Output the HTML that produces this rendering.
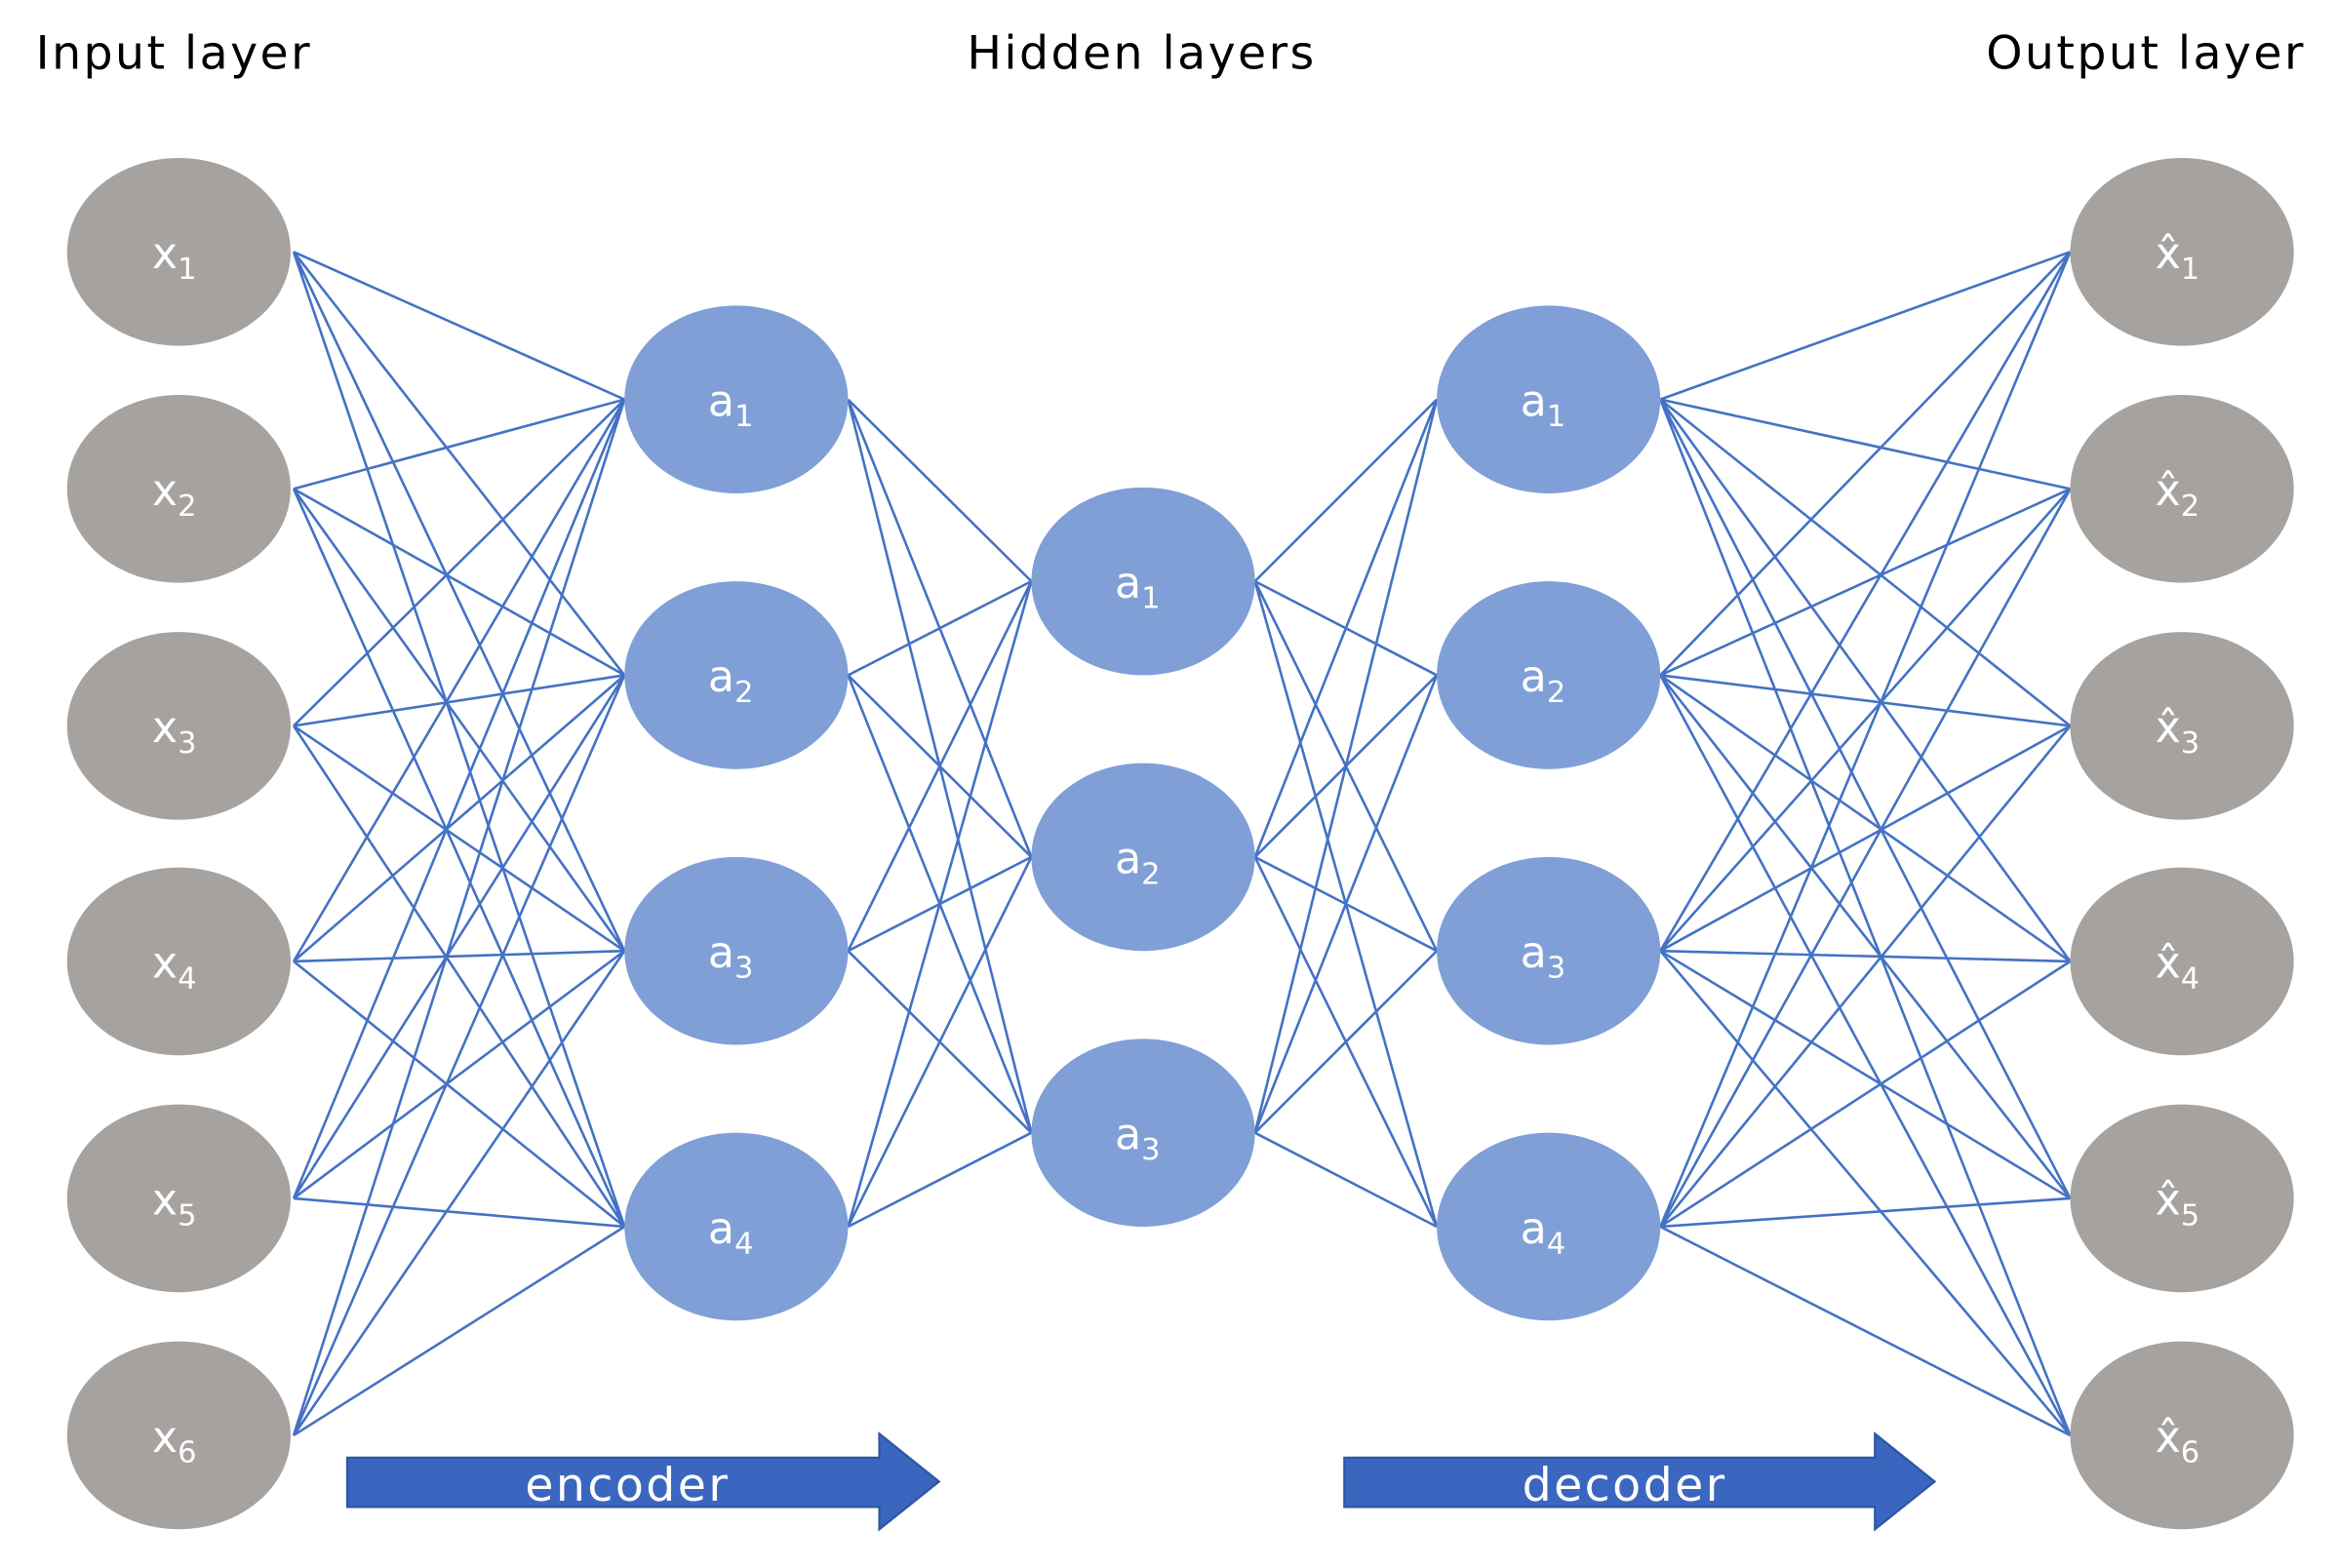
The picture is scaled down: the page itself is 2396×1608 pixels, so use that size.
<!DOCTYPE html>
<html><head><meta charset="utf-8"><style>
html,body{margin:0;padding:0;background:#fff;}
svg{display:block;}
text{font-family:"DejaVu Sans","Liberation Sans",sans-serif;}
</style></head><body>
<svg width="2396" height="1608" viewBox="0 0 1568 1052" preserveAspectRatio="none" xmlns="http://www.w3.org/2000/svg">
<rect width="1568" height="1052" fill="#fff"/>
<g stroke="#4472c4" stroke-width="1.7" fill="none">
<path d="M197 169L419 268M197 169L419 453M197 169L419 638M197 169L419 823
M197 328L419 268M197 328L419 453M197 328L419 638M197 328L419 823
M197 487L419 268M197 487L419 453M197 487L419 638M197 487L419 823
M197 645L419 268M197 645L419 453M197 645L419 638M197 645L419 823
M197 804L419 268M197 804L419 453M197 804L419 638M197 804L419 823
M197 963L419 268M197 963L419 453M197 963L419 638M197 963L419 823"/>
<path d="M569 268L692 390M569 268L692 575M569 268L692 760
M569 453L692 390M569 453L692 575M569 453L692 760
M569 638L692 390M569 638L692 575M569 638L692 760
M569 823L692 390M569 823L692 575M569 823L692 760"/>
<path d="M842 390L964 268M842 390L964 453M842 390L964 638M842 390L964 823
M842 575L964 268M842 575L964 453M842 575L964 638M842 575L964 823
M842 760L964 268M842 760L964 453M842 760L964 638M842 760L964 823"/>
<path d="M1114 268L1389 169M1114 268L1389 328M1114 268L1389 487M1114 268L1389 645M1114 268L1389 804M1114 268L1389 963
M1114 453L1389 169M1114 453L1389 328M1114 453L1389 487M1114 453L1389 645M1114 453L1389 804M1114 453L1389 963
M1114 638L1389 169M1114 638L1389 328M1114 638L1389 487M1114 638L1389 645M1114 638L1389 804M1114 638L1389 963
M1114 823L1389 169M1114 823L1389 328M1114 823L1389 487M1114 823L1389 645M1114 823L1389 804M1114 823L1389 963"/>
</g>
<g fill="#a5a2a0">
<ellipse cx="120" cy="169" rx="75" ry="63"/><ellipse cx="120" cy="328" rx="75" ry="63"/><ellipse cx="120" cy="487" rx="75" ry="63"/>
<ellipse cx="120" cy="645" rx="75" ry="63"/><ellipse cx="120" cy="804" rx="75" ry="63"/><ellipse cx="120" cy="963" rx="75" ry="63"/>
<ellipse cx="1464" cy="169" rx="75" ry="63"/><ellipse cx="1464" cy="328" rx="75" ry="63"/><ellipse cx="1464" cy="487" rx="75" ry="63"/>
<ellipse cx="1464" cy="645" rx="75" ry="63"/><ellipse cx="1464" cy="804" rx="75" ry="63"/><ellipse cx="1464" cy="963" rx="75" ry="63"/>
</g>
<g fill="#7f9fd6">
<ellipse cx="494" cy="268" rx="75" ry="63"/><ellipse cx="494" cy="453" rx="75" ry="63"/><ellipse cx="494" cy="638" rx="75" ry="63"/><ellipse cx="494" cy="823" rx="75" ry="63"/>
<ellipse cx="767" cy="390" rx="75" ry="63"/><ellipse cx="767" cy="575" rx="75" ry="63"/><ellipse cx="767" cy="760" rx="75" ry="63"/>
<ellipse cx="1039" cy="268" rx="75" ry="63"/><ellipse cx="1039" cy="453" rx="75" ry="63"/><ellipse cx="1039" cy="638" rx="75" ry="63"/><ellipse cx="1039" cy="823" rx="75" ry="63"/>
</g>
<g fill="#fff" font-size="29">
<text x="102" y="180">x<tspan font-size="20" dy="7">1</tspan></text>
<text x="102" y="339">x<tspan font-size="20" dy="7">2</tspan></text>
<text x="102" y="498">x<tspan font-size="20" dy="7">3</tspan></text>
<text x="102" y="656">x<tspan font-size="20" dy="7">4</tspan></text>
<text x="102" y="815">x<tspan font-size="20" dy="7">5</tspan></text>
<text x="102" y="974">x<tspan font-size="20" dy="7">6</tspan></text>
<text x="1446" y="180">x̂<tspan font-size="20" dy="7">1</tspan></text>
<text x="1446" y="339">x̂<tspan font-size="20" dy="7">2</tspan></text>
<text x="1446" y="498">x̂<tspan font-size="20" dy="7">3</tspan></text>
<text x="1446" y="656">x̂<tspan font-size="20" dy="7">4</tspan></text>
<text x="1446" y="815">x̂<tspan font-size="20" dy="7">5</tspan></text>
<text x="1446" y="974">x̂<tspan font-size="20" dy="7">6</tspan></text>
<text x="475" y="279">a<tspan font-size="20" dy="7">1</tspan></text>
<text x="475" y="464">a<tspan font-size="20" dy="7">2</tspan></text>
<text x="475" y="649">a<tspan font-size="20" dy="7">3</tspan></text>
<text x="475" y="834">a<tspan font-size="20" dy="7">4</tspan></text>
<text x="748" y="401">a<tspan font-size="20" dy="7">1</tspan></text>
<text x="748" y="586">a<tspan font-size="20" dy="7">2</tspan></text>
<text x="748" y="771">a<tspan font-size="20" dy="7">3</tspan></text>
<text x="1020" y="279">a<tspan font-size="20" dy="7">1</tspan></text>
<text x="1020" y="464">a<tspan font-size="20" dy="7">2</tspan></text>
<text x="1020" y="649">a<tspan font-size="20" dy="7">3</tspan></text>
<text x="1020" y="834">a<tspan font-size="20" dy="7">4</tspan></text>
</g>
<g fill="#000" font-size="31" letter-spacing="1.6">
<text x="24" y="46">Input layer</text>
<text x="766" y="46" text-anchor="middle">Hidden layers</text>
<text x="1547" y="46" text-anchor="end">Output layer</text>
</g>
<g fill="#3a66bf" stroke="#2f56a3" stroke-width="1.5">
<path d="M233 978L590 978L590 962L630 994L590 1026L590 1011L233 1011Z"/>
<path d="M902 978L1258 978L1258 962L1298 994L1258 1026L1258 1011L902 1011Z"/>
</g>
<g fill="#fff" font-size="31" letter-spacing="1.6" text-anchor="middle">
<text x="421" y="1007">encoder</text>
<text x="1090" y="1007">decoder</text>
</g>
</svg>
</body></html>
